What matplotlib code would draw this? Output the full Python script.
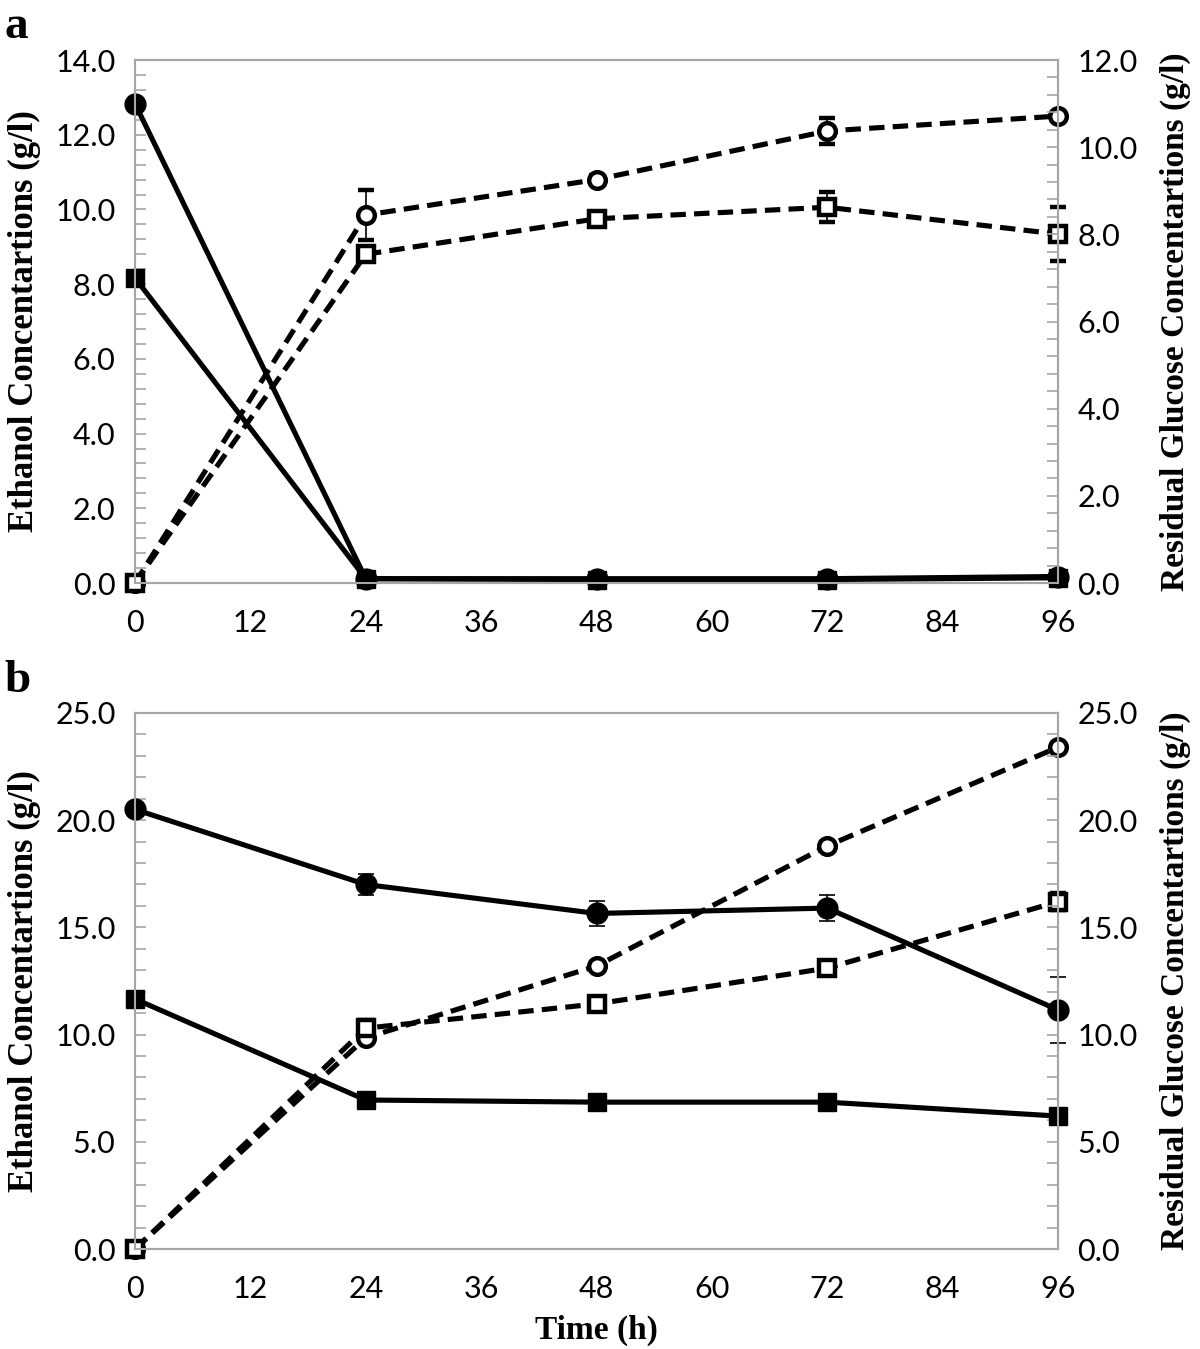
import matplotlib.pyplot as plt
from matplotlib.ticker import MultipleLocator, FormatStrFormatter

# time points (h)
time_h = [0, 24, 48, 72, 96]

# panel a - ethanol (left axis, dashed, open markers)
a_eth_circle = [0.0, 9.85, 10.8, 12.1, 12.5]
a_eth_circle_err = [0.0, 0.67, 0.12, 0.35, 0.1]
a_eth_square = [0.0, 8.8, 9.75, 10.06, 9.34]
a_eth_square_err = [0.0, 0.15, 0.15, 0.4, 0.72]
# panel a - residual glucose (right axis, solid, filled markers)
a_glu_circle = [11.0, 0.1, 0.1, 0.1, 0.15]
a_glu_square = [7.0, 0.1, 0.08, 0.08, 0.12]

# panel b - ethanol (left axis)
b_eth_circle = [0.0, 9.85, 13.2, 18.8, 23.4]
b_eth_circle_err = [0.0, 0.2, 0.2, 0.2, 0.2]
b_eth_square = [0.0, 10.3, 11.43, 13.1, 16.2]
b_eth_square_err = [0.0, 0.4, 0.2, 0.2, 0.4]
# panel b - residual glucose (right axis)
b_glu_circle = [20.5, 17.0, 15.65, 15.9, 11.15]
b_glu_circle_err = [0.3, 0.5, 0.6, 0.6, 1.55]
b_glu_square = [11.66, 6.95, 6.85, 6.85, 6.2]

x_ticks = [0, 12, 24, 36, 48, 60, 72, 84, 96]

GRAY = "#a6a6a6"
TICK_FONT = "Lato"
LABEL_FONT = "Liberation Serif"


def style_axis(ax, ymax, major, minor):
    ax.set_xlim(0, 96)
    ax.set_ylim(0, ymax)
    ax.yaxis.set_major_locator(MultipleLocator(major))
    ax.yaxis.set_minor_locator(MultipleLocator(minor))
    ax.yaxis.set_major_formatter(FormatStrFormatter("%.1f"))
    for s in ax.spines.values():
        s.set_color(GRAY)
        s.set_linewidth(1.5)
    ax.tick_params(axis="y", which="both", direction="in", length=8,
                   width=1.2, color=GRAY, labelsize=22, pad=14)
    ax.tick_params(axis="x", length=0, labelsize=22, pad=19)
    for lab in ax.get_yticklabels() + ax.get_xticklabels():
        lab.set_fontfamily(TICK_FONT)


def unclip(container):
    for art in container.lines[0:1] + tuple(container.lines[1]) + tuple(container.lines[2]):
        art.set_clip_on(False)


def draw_panel(ax, eth_c, eth_c_err, eth_s, eth_s_err, glu_c, glu_c_err,
               glu_s, ymax_l, ymax_r, major_l, minor_l, major_r, minor_r):
    ax.set_xticks(x_ticks)
    style_axis(ax, ymax_l, major_l, minor_l)
    for vals, errs, mk, size in [(eth_c, eth_c_err, "o", 12), (eth_s, eth_s_err, "s", 11)]:
        eb = ax.errorbar(time_h, vals, yerr=errs, color="black", ls=(0, (3, 1.6)),
                         lw=3.7, marker=mk, ms=size, mfc="white", mec="black", mew=3.2,
                         ecolor="black", elinewidth=1.2, capsize=6, capthick=1.2,
                         zorder=3)
        unclip(eb)
    ax2 = ax.twinx()
    style_axis(ax2, ymax_r, major_r, minor_r)
    eb = ax2.errorbar(time_h, glu_c, yerr=glu_c_err, color="black", ls="-", lw=3.7,
                      marker="o", ms=15, mfc="black", mec="black",
                      ecolor="black", elinewidth=1.2, capsize=6, capthick=1.2)
    unclip(eb)
    ax2.plot(time_h, glu_s, color="black", ls="-", lw=3.7, marker="s", ms=13,
             mfc="black", mec="black", clip_on=False)
    ax.set_ylabel("Ethanol Concentartions (g/l)", fontfamily=LABEL_FONT,
                  fontweight="bold", fontsize=25, labelpad=10)
    ax2.set_ylabel("Residual Glucose Concentartions (g/l)", fontfamily=LABEL_FONT,
                   fontweight="bold", fontsize=24, labelpad=16)
    return ax2


fig = plt.figure(figsize=(12, 13.49), dpi=100)
ax_a = fig.add_axes([0.1125, 0.5678, 0.7692, 0.3877])
ax_b = fig.add_axes([0.1125, 0.0741, 0.7692, 0.3974])

draw_panel(ax_a, a_eth_circle, a_eth_circle_err, a_eth_square, a_eth_square_err,
           a_glu_circle, [0.0] * 5, a_glu_square,
           14.0, 12.0, 2.0, 0.4, 2.0, 0.4)
draw_panel(ax_b, b_eth_circle, b_eth_circle_err, b_eth_square, b_eth_square_err,
           b_glu_circle, b_glu_circle_err, b_glu_square,
           25.0, 25.0, 5.0, 1.0, 5.0, 1.0)

ax_b.set_xlabel("Time (h)", fontfamily=LABEL_FONT, fontweight="bold",
                fontsize=24, labelpad=8)

fig.text(0.004, 0.972, "a", fontfamily=LABEL_FONT, fontweight="bold", fontsize=34)
fig.text(0.004, 0.487, "b", fontfamily=LABEL_FONT, fontweight="bold", fontsize=34)

fig.savefig("out.png", dpi=100)
